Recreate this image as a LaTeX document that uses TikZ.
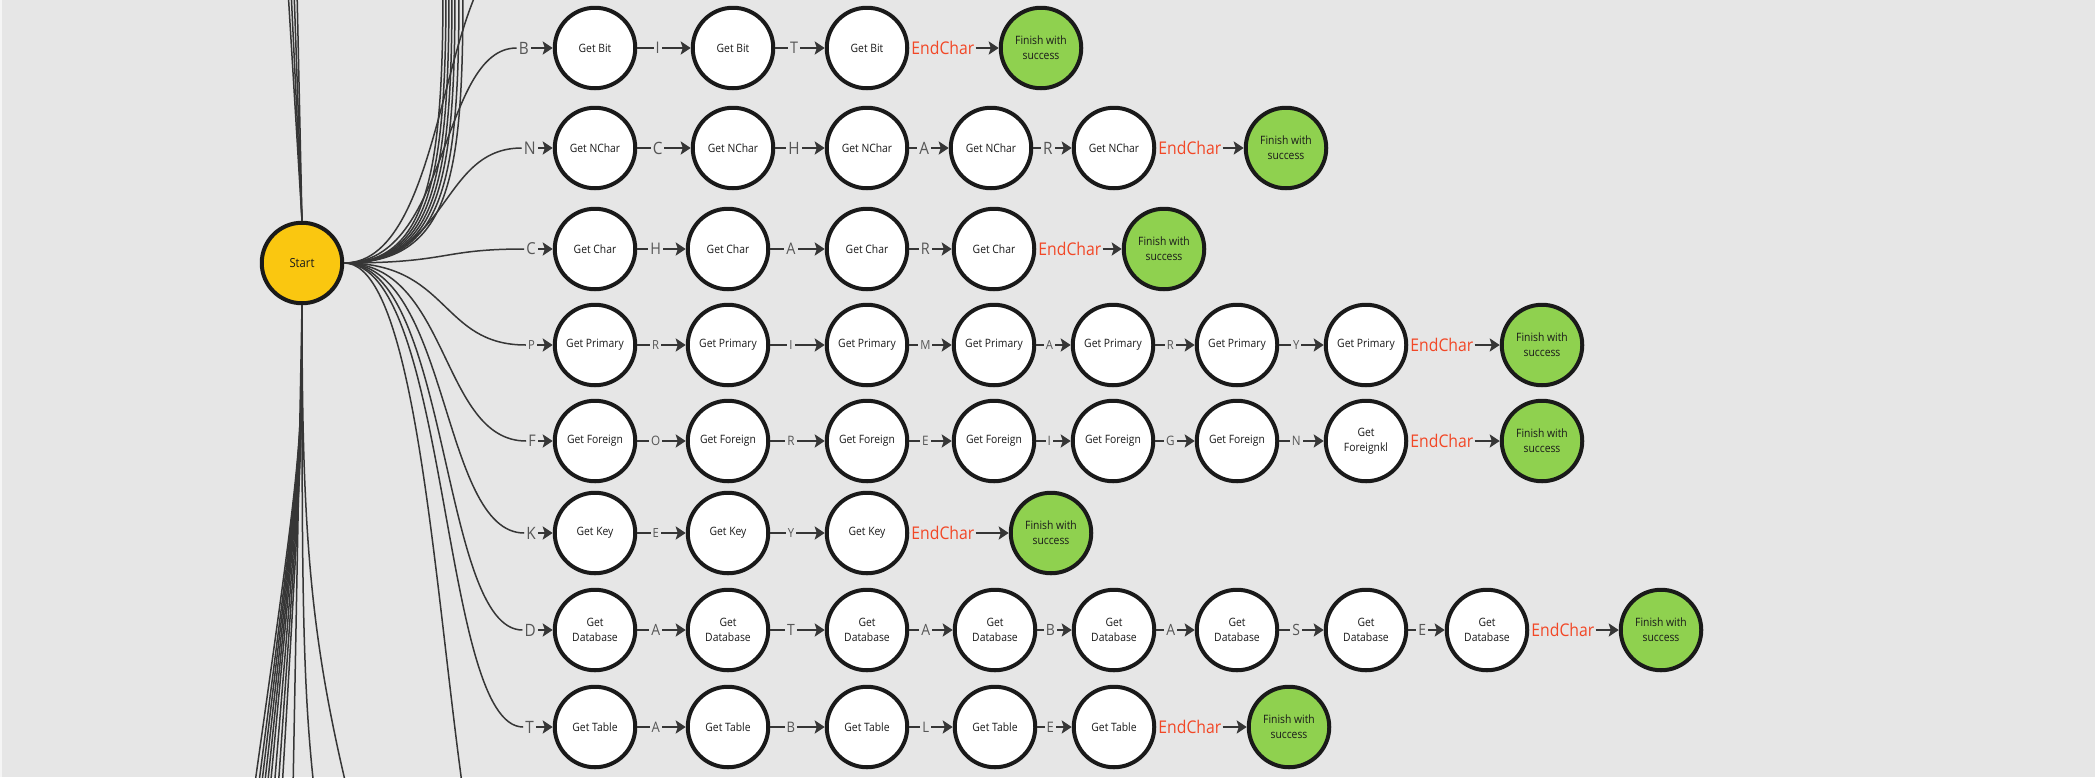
\documentclass[tikz,border=0pt]{standalone}
\usepackage{fontspec}
\setmainfont{Open Sans}[FakeStretch=0.9]
\usetikzlibrary{arrows.meta,positioning}

\definecolor{canvas}{HTML}{E6E6E6}
\definecolor{ink}{HTML}{1A1A1A}
\definecolor{wire}{HTML}{363636}
\definecolor{graytext}{HTML}{565656}
\definecolor{startyellow}{HTML}{FAC710}
\definecolor{okgreen}{HTML}{8FD14F}
\definecolor{endred}{HTML}{F24726}

\begin{document}
\begin{tikzpicture}
    [x=1pt,y=-1pt,
     state/.style={circle,draw=ink,line width=4pt,fill=white,minimum size=80.5pt,
       inner sep=0pt,align=center,text=ink,font=\fontsize{11.5}{15}\selectfont},
     startstate/.style={state,fill=startyellow,font=\fontsize{12.5}{15}\selectfont},
     donestate/.style={state,fill=okgreen},
     hop/.style={draw=wire,line width=2.5pt,-{Stealth[length=10pt,width=13pt,inset=2pt]}},
     fan/.style={draw=wire,line width=1.5pt},
     chr/.style={fill=canvas,text=graytext,inner sep=2pt,font=\fontsize{#1}{#1}\selectfont},
     chr/.default=16,
     endchar/.style={text=endred,inner sep=1pt,font=\fontsize{17.5}{17.5}\selectfont}]
    \path[use as bounding box,fill=canvas] (0,0) rectangle (2095,777);
    \clip (0,0) rectangle (2095,777);
    \draw[white!60!canvas,line width=1.5pt] (1,0) -- (1,777);

    \node[startstate] (start) at (302,263) {Start};

    % BIT
    \foreach \x [count=\i] in {595,733,867}
      \node[state] (b\i) at (\x,48) {Get Bit};
    \node[chr=17,anchor=east] (bin) at (531,48) {B};
    \node[endchar,right=1pt of b3] (bend) {EndChar};
    \node[donestate] (bok) at (1041,48) {Finish with\\success};
    \foreach \i/\j/\ch in {1/2/I,2/3/T}
      \draw[hop] (b\i) -- node[chr=16,pos=.38]{\ch} (b\j);

    % NCHAR
    \foreach \x [count=\i] in {595,733,867,991,1114}
      \node[state] (n\i) at (\x,148) {Get NChar};
    \node[chr=17.5,anchor=east] (nin) at (538,148) {N};
    \node[endchar,right=1pt of n5] (nend) {EndChar};
    \node[donestate] (nok) at (1286,148) {Finish with\\success};
    \foreach \i/\j/\ch in {1/2/C,2/3/H,3/4/A,4/5/R}
      \draw[hop] (n\i) -- node[chr=17,pos=.38]{\ch} (n\j);

    % CHAR
    \foreach \x [count=\i] in {595,728,867,994}
      \node[state] (c\i) at (\x,249) {Get Char};
    \node[chr=16.5,anchor=east] (cin) at (538,249) {C};
    \node[endchar,right=1pt of c4] (cend) {EndChar};
    \node[donestate] (cok) at (1164,249) {Finish with\\success};
    \foreach \i/\j/\ch in {1/2/H,2/3/A,3/4/R}
      \draw[hop] (c\i) -- node[chr=16,pos=.38]{\ch} (c\j);

    % PRIMARY
    \foreach \x [count=\i] in {595,728,867,994,1113,1237,1366}
      \node[state] (p\i) at (\x,345) {Get Primary};
    \node[chr=12.5,anchor=east] (pin) at (537,345) {P};
    \node[endchar,right=1pt of p7] (pend) {EndChar};
    \node[donestate] (pok) at (1542,345) {Finish with\\success};
    \foreach \i/\j/\ch in {1/2/R,2/3/I,3/4/M,4/5/A,5/6/R,6/7/Y}
      \draw[hop] (p\i) -- node[chr=12.5,pos=.38]{\ch} (p\j);

    % FOREIGN
    \foreach \x [count=\i] in {595,728,867,994,1113,1237}
      \node[state] (f\i) at (\x,441) {Get Foreign};
    \node[state] (f7) at (1366,441) {Get\\Foreignkl};
    \node[chr=16,anchor=east] (fin) at (538,441) {F};
    \node[endchar,right=1pt of f7] (fend) {EndChar};
    \node[donestate] (fok) at (1542,441) {Finish with\\success};
    \foreach \i/\j/\ch in {1/2/O,2/3/R,3/4/E,4/5/I,5/6/G,6/7/N}
      \draw[hop] (f\i) -- node[chr=13,pos=.38]{\ch} (f\j);

    % KEY
    \foreach \x [count=\i] in {595,728,867}
      \node[state] (k\i) at (\x,533) {Get Key};
    \node[chr=17,anchor=east] (kin) at (538,533) {K};
    \node[endchar,right=1pt of k3] (kend) {EndChar};
    \node[donestate] (kok) at (1051,533) {Finish with\\success};
    \foreach \i/\j/\ch in {1/2/E,2/3/Y}
      \draw[hop] (k\i) -- node[chr=12.5,pos=.38]{\ch} (k\j);

    % DATABASE
    \foreach \x [count=\i] in {595,728,867,995,1114,1237,1366,1487}
      \node[state] (d\i) at (\x,630) {Get\\Database};
    \node[chr=17,anchor=east] (din) at (538,630) {D};
    \node[endchar,right=1pt of d8] (dend) {EndChar};
    \node[donestate] (dok) at (1661,630) {Finish with\\success};
    \foreach \i/\j/\ch in {1/2/A,2/3/T,3/4/A,4/5/B,5/6/A,6/7/S,7/8/E}
      \draw[hop] (d\i) -- node[chr=15.5,pos=.38]{\ch} (d\j);

    % TABLE
    \foreach \x [count=\i] in {595,728,867,995,1114}
      \node[state] (t\i) at (\x,727) {Get Table};
    \node[chr=17,anchor=east] (tin) at (536,727) {T};
    \node[endchar,right=1pt of t5] (tend) {EndChar};
    \node[donestate] (tok) at (1289,727) {Finish with\\success};
    \foreach \i/\j/\ch in {1/2/A,2/3/B,3/4/L,4/5/E}
      \draw[hop] (t\i) -- node[chr=14.5,pos=.38]{\ch} (t\j);

    % first letters and end markers
    \foreach \r in {b,n,c,p,f,k,d,t}{
      \draw[hop] (\r in) -- (\r1);
      \draw[hop] (\r end) -- (\r ok);
    }

    % wires out of start
    \foreach \r/\y in {b/48,n/148,c/249,p/345,f/441,k/533,d/630,t/727}
      \draw[fan] (start.east) .. controls (450,263) and (440,\y) .. (\r in.west);
    \coordinate (above) at (522,-52);
    \coordinate (below) at (522,975);
    \draw[fan] (start.east) .. controls (450,263) and (440,-52) .. (above);
    \draw[fan] (start.east) .. controls (450,263) and (440,975) .. (below);
    \foreach \x/\cx [count=\i] in {443/425,446/429,449/433,452/437,455/441,459/445,463/450}{
      \coordinate (up\i) at (\x,-10);
      \draw[fan] (start.east) .. controls (\cx,263) and (\x,180) .. (up\i);
    }
    \foreach \x [count=\i] in {288,291,294,297}{
      \coordinate (top\i) at (\x,-10);
      \draw[fan] (start.north) -- (top\i);
    }
    \foreach \x [count=\i] in {254,258,261,264,267,270,274,278,282}{
      \coordinate (low\i) at (\x,790);
      \draw[fan] (start.south) .. controls (302,450) .. (low\i);
    }
    \coordinate (drop1) at (293,790);
    \coordinate (drop2) at (318,820);
    \coordinate (drop3) at (365,860);
    \draw[fan] (start.south) -- (drop1);
    \draw[fan] (start.south) .. controls (302,600) and (302,700) .. (drop2);
    \draw[fan] (start.south) .. controls (302,560) and (312,660) .. (drop3);
\end{tikzpicture}
\end{document}
